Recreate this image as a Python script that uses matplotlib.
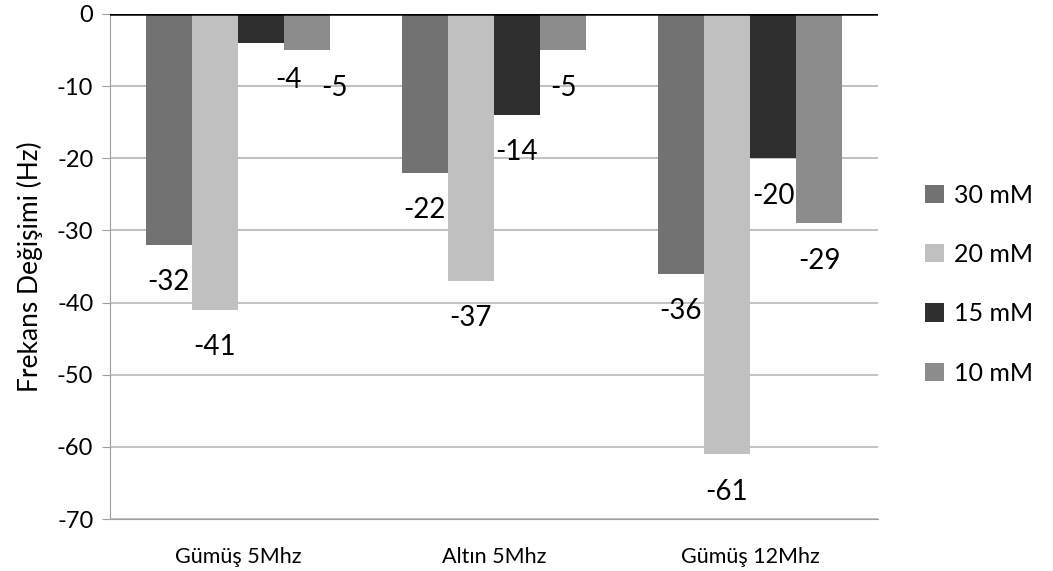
import matplotlib
matplotlib.use('Agg')
import matplotlib.pyplot as plt
import numpy as np

categories = ['Gümüş 5Mhz', 'Altın 5Mhz', 'Gümüş 12Mhz']
series_names = ['30 mM', '20 mM', '15 mM', '10 mM']
values_30 = [-32, -22, -36]
values_20 = [-41, -37, -61]
values_15 = [-4, -14, -20]
values_10 = [-5, -5, -29]
yticks = [0, -10, -20, -30, -40, -50, -60, -70]

series = [values_30, values_20, values_15, values_10]
colors = ['#727272', '#c0c0c0', '#2f2f2f', '#8c8c8c']

plt.rcParams['font.family'] = ['Lato', 'DejaVu Sans']

fig = plt.figure(figsize=(10.53, 5.71), dpi=100)
ax = fig.add_axes([110 / 1053, 1 - 519 / 571, 768 / 1053, 505 / 571])

x = np.arange(len(categories))
width = 0.18
for i, (vals, col, name) in enumerate(zip(series, colors, series_names)):
    pos = x + (i - 1.5) * width
    ax.bar(pos, vals, width, color=col, label=name, zorder=2)
    for j, (p, v) in enumerate(zip(pos, vals)):
        dx = 0
        # first group's small bars have their labels pushed right
        if j == 0 and i >= 2:
            dx = 20
        ax.annotate(str(v), (p, v), xytext=(dx, -27), textcoords='offset points',
                    ha='center', va='center', fontsize=20)

ax.set_xlim(-0.5, 2.5)
ax.set_ylim(-70, 0)
ax.set_yticks(yticks)
ax.set_yticklabels([str(t) for t in yticks], fontsize=17)
ax.set_xticks(x)
ax.set_xticklabels(categories, fontsize=15.5)
ax.tick_params(axis='x', length=0, pad=20)
ax.tick_params(axis='y', length=6, color='#a0a0a0', pad=6)
ax.yaxis.grid(True, color='#b8b8b8', linewidth=1.2, zorder=0)
ax.set_axisbelow(True)
for s in ['right', 'top']:
    ax.spines[s].set_visible(False)
ax.spines['left'].set_color('#a0a0a0')
ax.spines['bottom'].set_color('#a0a0a0')
ax.axhline(0, color='black', linewidth=1.8, zorder=3)
ax.set_ylabel('Frekans Değişimi (Hz)', fontsize=19, labelpad=10)

leg = ax.legend(loc='center left', bbox_to_anchor=(1.032, 0.465), frameon=False,
                fontsize=18, handlelength=0.75, handleheight=0.75,
                handletextpad=0.4, labelspacing=1.45)

fig.savefig('out.png', dpi=100)
